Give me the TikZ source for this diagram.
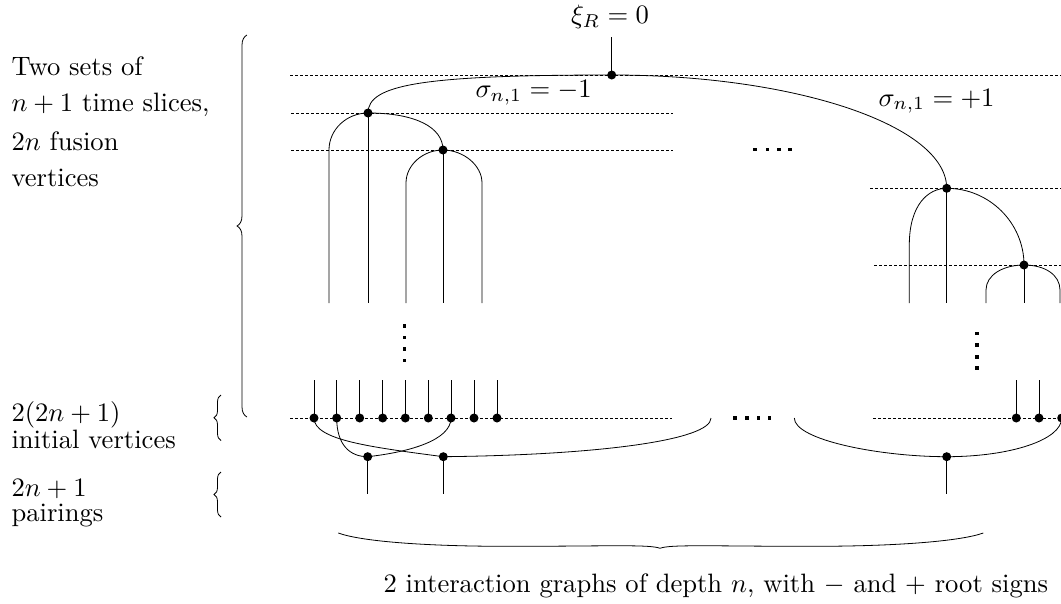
\documentclass[tikz,border=0pt]{standalone}
\usetikzlibrary{decorations.pathreplacing}
\begin{document}
\begin{tikzpicture}[x=1pt,y=-1pt,
  edge/.style={line width=0.8pt},
  slice/.style={line width=0.6pt,dash pattern=on 3.2pt off 1.8pt},
  dot/.style={circle,fill=black,inner sep=0pt,minimum size=9pt},
  sq/.style={fill=black,inner sep=0pt,minimum size=3.6pt},
  lbl/.style={inner sep=0pt,scale=2.66},
  brc/.style={line width=0.8pt,decorate,decoration={brace,amplitude=#1}}]
\useasboundingbox (0,0) rectangle (1061,603);

% time slices
\draw[slice] (290,75) -- (1065,75);
\draw[slice] (291,113) -- (673,113);
\draw[slice] (291,150) -- (673,150);
\draw[slice] (870,188.3) -- (1065,188.3);
\draw[slice] (874,265) -- (1065,265);
\draw[slice] (290,418) -- (672,418);
\draw[slice] (873,418) -- (1065,418);

% root and fusion vertices
\node[dot] (R) at (611.7,75) {};
\coordinate (Rtop) at (611.7,37);
\node[dot] (A) at (368,113) {};
\node[dot] (C) at (443,150) {};
\node[dot] (B) at (946.7,188.3) {};
\node[dot] (D) at (1024,265) {};

% leaf ends
\coordinate (a1) at (329,303);
\coordinate (a2) at (368,303);
\coordinate (c1) at (406,303);
\coordinate (c2) at (443,303);
\coordinate (c3) at (482,303);
\coordinate (b1) at (909.3,303);
\coordinate (b2) at (946.7,303);
\coordinate (d1) at (986,303);
\coordinate (d2) at (1024,303);
\coordinate (d3) at (1060,303);

\draw[edge] (Rtop) -- (R.center);
\draw[edge] (R.center) .. controls (420,75) and (368,85) .. (A.center);
\draw[edge] (R.center) .. controls (796.7,75) and (946.7,125.9) .. (B.center);

\draw[edge] (A.center) .. controls (346.5,113) and (329,129.6) .. (329,150) -- (a1);
\draw[edge] (A.center) -- (a2);
\draw[edge] (A.center) .. controls (415,113) and (443,127) .. (C.center);

\draw[edge] (C.center) .. controls (423,150) and (406,165) .. (406,183) -- (c1);
\draw[edge] (C.center) -- (c2);
\draw[edge] (C.center) .. controls (463,150) and (482,165) .. (482,183) -- (c3);

\draw[edge] (B.center) .. controls (928,188.3) and (909.3,205) .. (909.3,245) -- (b1);
\draw[edge] (B.center) -- (b2);
\draw[edge] (B.center) .. controls (989.2,188.3) and (1024,222.8) .. (D.center);

\draw[edge] (D.center) .. controls (1003,265) and (986,275) .. (986,290) -- (d1);
\draw[edge] (D.center) -- (d2);
\draw[edge] (D.center) .. controls (1045,265) and (1060,275) .. (1060,290) -- (d3);

% vertical ellipses
\foreach \y in {325.7,337.5,349,360.5} \node[sq] at (404.5,\y) {};
\foreach \y in {333.3,345,356.7,367.7} \node[sq] at (976.7,\y) {};
% horizontal ellipses
\foreach \x in {755,767.3,779,790} \node[sq] at (\x,149.3) {};
\foreach \x in {735,746.7,758.3,769.3} \node[sq] at (\x,418) {};

% initial vertices
\foreach \x [count=\i] in {314,336.7,359.7,382.7,405.3,428.3,451,474,497} {
  \node[dot] (iL\i) at (\x,418) {};
  \coordinate (tL\i) at (\x,380);
  \draw[edge] (tL\i) -- (iL\i.center);
}
\foreach \x [count=\i] in {1016.3,1039,1061.7} {
  \node[dot] (iR\i) at (\x,418) {};
  \coordinate (tR\i) at (\x,380);
  \draw[edge] (tR\i) -- (iR\i.center);
}

% pairings
\node[dot] (P1) at (367.7,456.7) {};
\node[dot] (P2) at (443.3,456.7) {};
\node[dot] (P3) at (946.7,456.7) {};
\coordinate (q1) at (367.7,494);
\coordinate (q2) at (443.3,494);
\coordinate (q3) at (946.7,494);
\draw[edge] (P1.center) -- (q1);
\draw[edge] (P2.center) -- (q2);
\draw[edge] (P3.center) -- (q3);
\coordinate (e1) at (711,418);
\coordinate (e2) at (794.3,418);

\draw[edge] (iL1.center) .. controls (314,440) and (370,447) .. (P2.center);
\draw[edge] (iL2.center) .. controls (336.7,445) and (350,456.7) .. (P1.center);
\draw[edge] (iL7.center) .. controls (451,440) and (410,452) .. (P1.center);
\draw[edge] (P2.center) .. controls (600,455) and (711,440) .. (e1);
\draw[edge] (e2) .. controls (794.3,440) and (880,456.7) .. (P3.center);
\draw[edge] (P3.center) .. controls (1010,456.7) and (1061.7,440) .. (iR3.center);

% braces
\draw[brc=10pt] (247,417) -- (247,35);
\draw[brc=7pt] (221,440.5) -- (221,395);
\draw[brc=7pt] (221,517) -- (221,472);
\draw[line width=0.8pt] (338.3,533) .. controls (360,541) and (420,546) .. (500,546.3)
  .. controls (600,546.5) and (650,544) .. (660,548.3)
  .. controls (670,544) and (720,546.5) .. (820,546.3)
  .. controls (900,546) and (961,541) .. (983.3,533);

% labels
\node[lbl,anchor=base] (xi) at (610,23.3) {$\xi_R=0$};
\node[lbl,anchor=base west] (sm) at (475,97.3) {$\sigma_{n,1}=-1$};
\node[lbl,anchor=base west] (sp) at (878,106) {$\sigma_{n,1}=+1$};
\node[lbl,anchor=base west] (t1) at (11,75) {Two sets of};
\node[lbl,anchor=base west] (t2) at (11,111.7) {$n+1$ time slices,};
\node[lbl,anchor=base west] (t3) at (11,150) {$2n$ fusion};
\node[lbl,anchor=base west] (t4) at (11,186.7) {vertices};
\node[lbl,anchor=base west] (t5) at (11,421.7) {$2(2n+1)$};
\node[lbl,anchor=base west] (t6) at (11,448.3) {initial vertices};
\node[lbl,anchor=base west] (t7) at (11,496) {$2n+1$};
\node[lbl,anchor=base west] (t8) at (11,521.7) {pairings};
\node[lbl,anchor=base west] (t9) at (383,592) {2 interaction graphs of depth $n$, with $-$ and $+$ root signs};
\end{tikzpicture}
\end{document}
